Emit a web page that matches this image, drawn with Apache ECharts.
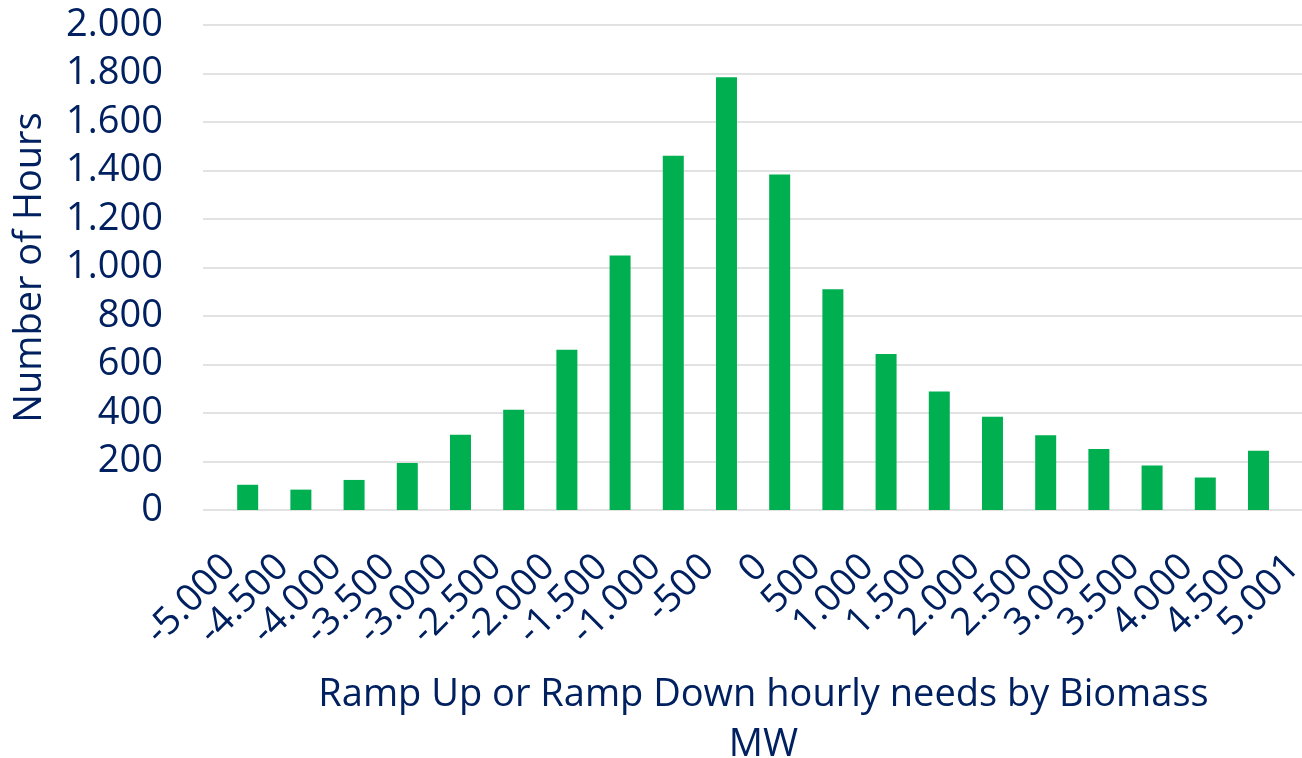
<!DOCTYPE html>
<html>
<head>
<meta charset="utf-8">
<script src="https://cdn.jsdelivr.net/npm/echarts@6/dist/echarts.min.js"></script>
<style>
html,body{margin:0;padding:0;background:#fff;}
#chart{width:1302px;height:758px;}
</style>
</head>
<body>
<div id="chart"></div>
<script>
// Category labels (MW bins)
var categories = ['-5.000','-4.500','-4.000','-3.500','-3.000','-2.500','-2.000','-1.500','-1.000','-500','0','500','1.000','1.500','2.000','2.500','3.000','3.500','4.000','4.500','5.001'];
// Number of hours per bin
var hours = [104, 84, 124, 194, 310, 413, 661, 1049, 1461, 1785, 1384, 910, 643, 489, 385, 308, 252, 184, 134, 244];
var yTicks = [0, 200, 400, 600, 800, 1000, 1200, 1400, 1600, 1800, 2000];

var textColor = '#002060';
var font = 'Open Sans';

function fmtThousands(v){
  return String(v).replace(/\B(?=(\d{3})+(?!\d))/g, '.');
}

var xMin = -0.84, xMax = 19.818;
var seriesData = hours.map(function(v, i){ return [i, v]; });
var labelShift = 0.344;
// empty guard labels at both ends so the real end labels are never dropped
var labelValues = [xMin].concat(categories.map(function(c, i){ return i - labelShift; })).concat([xMax]);

var chart = echarts.init(document.getElementById('chart'), null, {renderer:'canvas'});
chart.setOption({
  animation: false,
  backgroundColor: '#ffffff',
  grid: { left: 203, right: 0, top: 25, height: 485, containLabel: false, outerBoundsMode: 'none' },
  xAxis: {
    type: 'value',
    min: xMin,
    max: xMax,
    splitLine: { show: false },
    axisLine: { show: false },
    axisTick: { show: false },
    axisLabel: {
      customValues: labelValues,
      hideOverlap: false,
      rotate: 45,
      margin: 51,
      color: textColor,
      fontFamily: font,
      fontSize: 38,
      formatter: function(v){
        var idx = Math.round(v + labelShift);
        if (Math.abs(v + labelShift - idx) > 0.01) return '';
        return categories[idx] || '';
      }
    },
    name: 'Ramp Up or Ramp Down hourly needs by Biomass\nMW',
    nameLocation: 'middle',
    nameGap: 160,
    nameTextStyle: {
      color: textColor, fontFamily: font, fontSize: 38, lineHeight: 50,
      padding: [0, 0, 0, 22]
    }
  },
  yAxis: {
    type: 'value',
    min: 0,
    max: 2000,
    interval: 200,
    axisLine: { show: false },
    axisTick: { show: false },
    splitLine: { lineStyle: { color: '#d9d9d9', width: 1.5 } },
    axisLabel: {
      margin: 40,
      color: textColor,
      fontFamily: font,
      fontSize: 38,
      formatter: function(v){ return fmtThousands(v); }
    },
    name: 'Number of Hours',
    nameLocation: 'middle',
    nameGap: 154,
    nameRotate: 90,
    nameTextStyle: { color: textColor, fontFamily: font, fontSize: 38 }
  },
  series: [{
    type: 'bar',
    data: seriesData,
    barWidth: 21,
    itemStyle: { color: '#00B050' }
  }]
});
</script>
</body>
</html>
